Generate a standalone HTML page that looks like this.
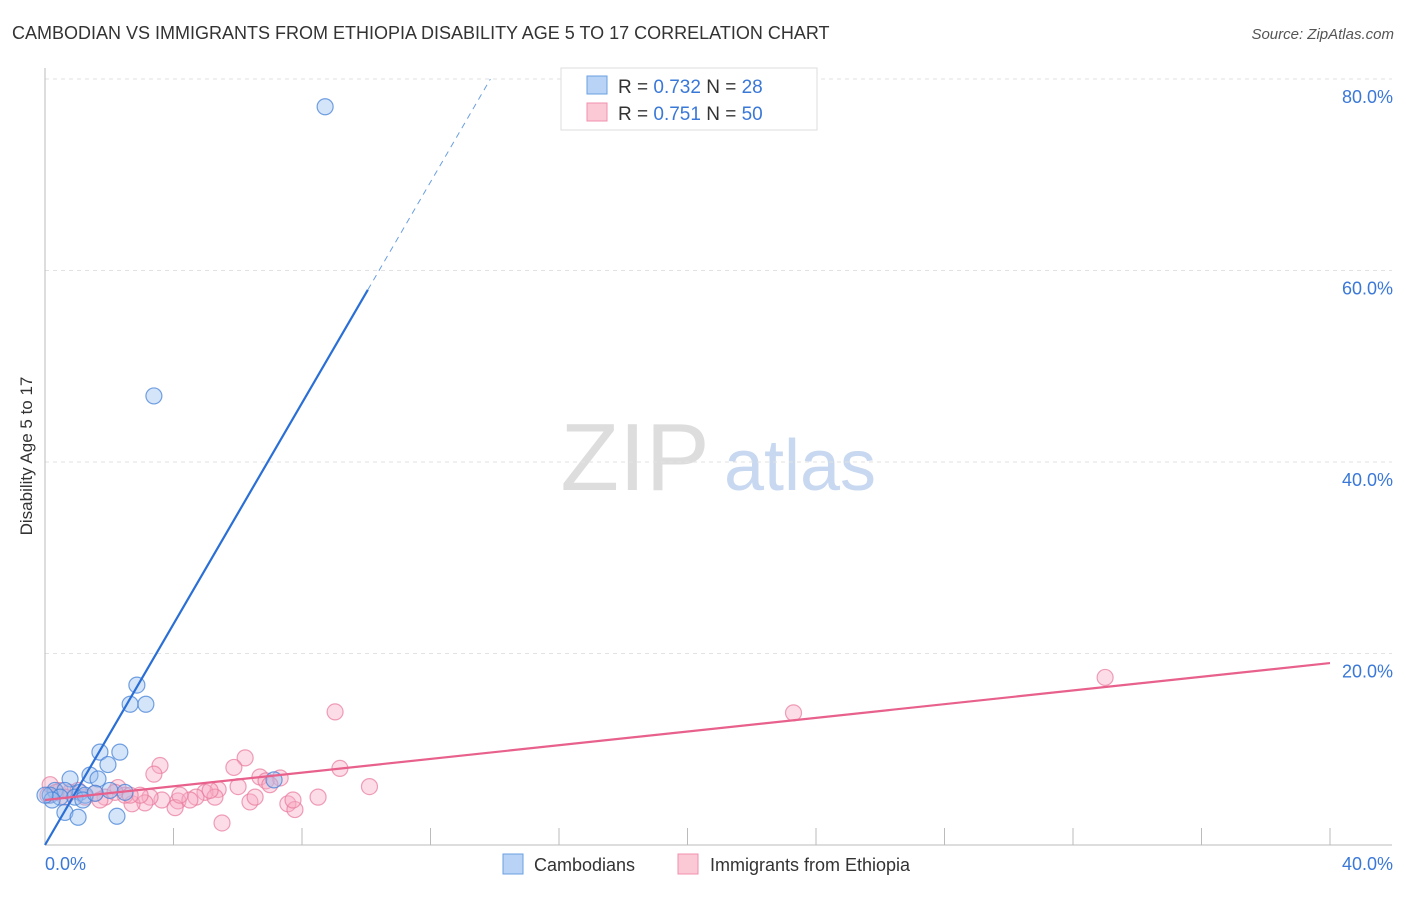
<!DOCTYPE html>
<html><head><meta charset="utf-8">
<style>
body{margin:0;background:#fff;font-family:"Liberation Sans",sans-serif;}
svg text{font-family:"Liberation Sans",sans-serif;}
</style></head>
<body>
<svg id="chart" width="1406" height="892" xmlns="http://www.w3.org/2000/svg">
<text x="12" y="39" font-size="18" fill="#333">CAMBODIAN VS IMMIGRANTS FROM ETHIOPIA DISABILITY AGE 5 TO 17 CORRELATION CHART</text>
<text x="1394" y="39" font-size="15" fill="#555" font-style="italic" text-anchor="end">Source: ZipAtlas.com</text>
<text x="32" y="456" font-size="17" fill="#333" text-anchor="middle" transform="rotate(-90 32 456)">Disability Age 5 to 17</text>
<g>
<text x="635" y="490" font-size="96" fill="#ddd" font-family="Liberation Serif" text-anchor="middle">ZIP</text>
<text x="800" y="490" font-size="72" fill="#c8d8f0" text-anchor="middle">atlas</text>
</g>
<g id="grid"></g>
<g id="axes"></g>
<g id="pts"></g>
<g id="lines"></g>
<g>
<rect x="561" y="68" width="256" height="62" fill="#fff" stroke="#ddd"/>
<rect x="587" y="76" width="20" height="18" fill="#b8d3f5" stroke="#6a9fe0"/>
<text x="618" y="93" font-size="19" fill="#333">R = <tspan fill="#3a78d8">0.732</tspan>   N = <tspan fill="#3a78d8"> 28</tspan></text>
<rect x="587" y="103" width="20" height="18" fill="#fbc8d6" stroke="#f090ad"/>
<text x="618" y="120" font-size="19" fill="#333">R =  <tspan fill="#3a78d8">0.751</tspan>   N = <tspan fill="#3a78d8">50</tspan></text>
</g>
<g>
<rect x="503" y="854" width="20" height="20" fill="#b8d3f5" stroke="#6a9fe0"/>
<text x="534" y="871" font-size="18" fill="#333">Cambodians</text>
<rect x="678" y="854" width="20" height="20" fill="#fbc8d6" stroke="#f090ad"/>
<text x="710" y="871" font-size="18" fill="#333">Immigrants from Ethiopia</text>
</g>
</svg>
<script>
const blueX=[8.72,3.39,2.86,2.65,3.14,1.71,2.33,1.96,1.40,1.65,0.78,0.31,0.62,1.09,0.16,0.47,0.93,1.25,1.18,0.22,0.62,1.03,2.24,2.49,7.13,2.02,1.56,0.0];
const blueY=[77.1,46.9,16.7,14.7,14.7,9.7,9.7,8.4,7.3,6.9,6.9,5.7,5.7,5.5,5.2,5.0,5.0,5.2,4.7,4.7,3.4,2.9,3.0,5.5,6.8,5.7,5.4,5.2];
const pinkX=[33.0,23.3,9.03,10.1,9.18,6.23,5.88,3.58,3.39,6.69,7.32,6.88,6.01,5.39,4.98,5.29,4.70,4.14,3.64,3.27,3.11,2.71,2.27,2.49,1.87,1.56,1.25,0.78,0.47,0.16,0.09,5.51,6.38,6.54,7.56,7.78,7.72,8.5,4.05,4.51,2.18,2.96,1.71,1.03,0.62,0.34,5.14,7.0,4.2,2.65];
const pinkY=[17.5,13.8,13.9,6.1,8.0,9.1,8.1,8.3,7.4,7.1,7.0,6.7,6.1,5.8,5.5,5.0,5.0,4.6,4.7,5.0,4.4,4.3,6.0,5.2,5.0,5.4,5.0,5.5,5.7,6.3,5.2,2.3,4.5,5.0,4.3,3.7,4.7,5.0,3.9,4.7,5.5,5.2,4.7,5.7,5.0,5.5,5.7,6.3,5.2,5.2];
const yTicks=[20,40,60,80];
const yTickLabels=["20.0%","40.0%","60.0%","80.0%"];
const xTicks=[0,4,8,12,16,20,24,28,32,36,40];
const xEndLabels=["0.0%","40.0%"];
const blueTrend=[0,5.77];   // intercept, slope
const pinkTrend=[4.7,0.3575];
const X0=45,X1=1330,Y0=845,YPX=191.5/20;
const sx=v=>X0+(v/40)*(X1-X0);
const sy=v=>Y0-v*YPX;
const NS="http://www.w3.org/2000/svg";
function mk(tag,attrs,parent){const e=document.createElementNS(NS,tag);for(const k in attrs)e.setAttribute(k,attrs[k]);parent.appendChild(e);return e;}
const grid=document.getElementById('grid'),axes=document.getElementById('axes'),pts=document.getElementById('pts'),lines=document.getElementById('lines');
yTicks.forEach((t,i)=>{
  const l=mk('line',{x1:X0,x2:1392,y1:sy(t),y2:sy(t),stroke:'#e2e2e2','stroke-dasharray':'4 4'},grid);
  
  
  const tx=mk('text',{x:1393,y:sy(t)+24,'font-size':18,fill:'#3a78d8','text-anchor':'end'},axes);
  tx.textContent=yTickLabels[i];
  
  
});
const ax=mk('line',{x1:X0,x2:X0,y1:68,y2:Y0,stroke:'#bbb'},axes);


const bx=mk('line',{x1:X0,x2:1392,y1:Y0,y2:Y0,stroke:'#bbb'},axes);


xTicks.forEach(t=>{
  const l=mk('line',{x1:sx(t),x2:sx(t),y1:Y0,y2:Y0-17,stroke:'#bbb'},axes);
  
  
});
const xl0=mk('text',{x:45,y:870,'font-size':18,fill:'#3a78d8'},axes);xl0.textContent=xEndLabels[0];


const xl1=mk('text',{x:1393,y:870,'font-size':18,fill:'#3a78d8','text-anchor':'end'},axes);xl1.textContent=xEndLabels[1];


pinkX.forEach((x,i)=>{
  const c=mk('circle',{cx:sx(x),cy:sy(pinkY[i]),r:8,fill:'rgba(248,170,195,0.4)',stroke:'rgba(232,120,155,0.7)','stroke-width':1.2},pts);
  
  
});
blueX.forEach((x,i)=>{
  const c=mk('circle',{cx:sx(x),cy:sy(blueY[i]),r:8,fill:'rgba(150,190,240,0.4)',stroke:'rgba(70,130,215,0.75)','stroke-width':1.2},pts);
  
  
});
const bS=mk('line',{x1:sx(0),y1:sy(blueTrend[0]),x2:sx(10.05),y2:sy(blueTrend[0]+blueTrend[1]*10.05),stroke:'#2a6fd6','stroke-width':2.2},lines);


const xe=(80-blueTrend[0])/blueTrend[1];
const bD=mk('line',{x1:sx(10.05),y1:sy(blueTrend[0]+blueTrend[1]*10.05),x2:sx(xe),y2:sy(80),stroke:'#6a9fe0','stroke-width':1,'stroke-dasharray':'6 5'},lines);


const pL=mk('line',{x1:sx(0),y1:sy(pinkTrend[0]),x2:sx(40),y2:sy(pinkTrend[0]+pinkTrend[1]*40),stroke:'#e8608c','stroke-width':2.2},lines);


</script>
</body></html>
